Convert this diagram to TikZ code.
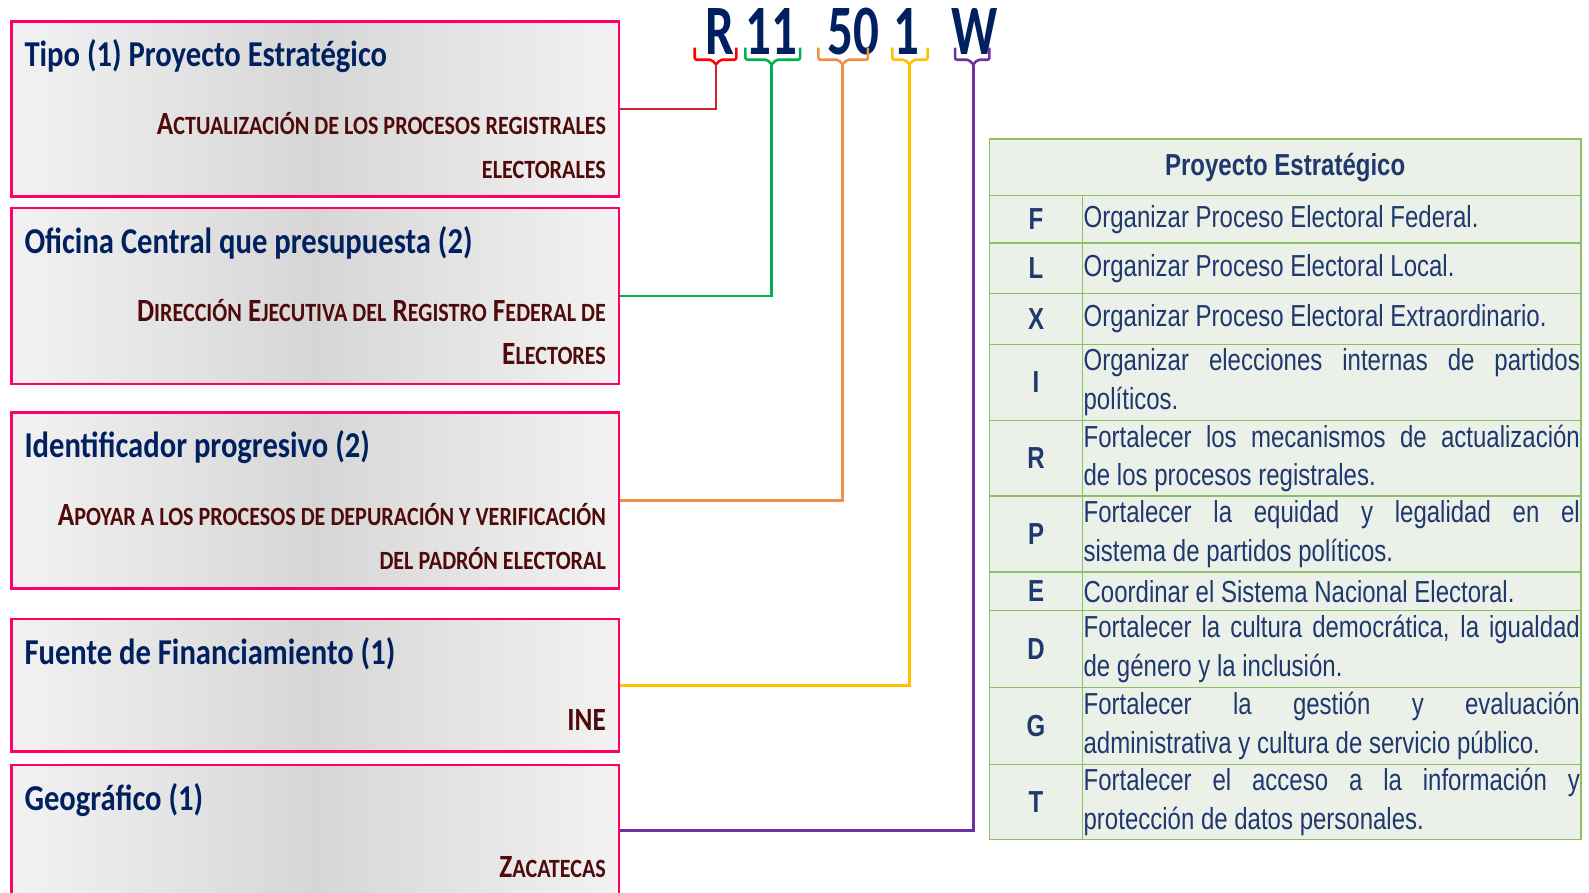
\documentclass[tikz,border=0pt]{standalone}
\usepackage{fontspec}
\usepackage{xcolor}
\usetikzlibrary{calc, positioning}
\newfontfamily\calibfont{Carlito}[FakeStretch=0.84]
\newfontfamily\codefont{Carlito}[FakeStretch=0.72]
\newfontfamily\narrowfont{Liberation Sans}[FakeStretch=0.79]
\definecolor{navy}{RGB}{0,32,96}
\definecolor{wine}{RGB}{80,10,10}
\definecolor{fieldline}{RGB}{255,0,102}
\definecolor{tabink}{RGB}{31,56,110}
\definecolor{tabfill}{RGB}{235,240,232}
\definecolor{tabline}{RGB}{141,192,99}
\definecolor{codered}{RGB}{255,0,0}
\definecolor{linkred}{RGB}{205,40,40}
\definecolor{codegreen}{RGB}{0,176,80}
\definecolor{codeorange}{RGB}{243,140,70}
\definecolor{codeyellow}{RGB}{255,192,0}
\definecolor{codepurple}{RGB}{112,48,160}
\newcommand{\sm}[1]{{\fontsize{26}{43}\selectfont #1}}
\newcommand{\tabfont}{\narrowfont\fontsize{30}{38}\selectfont\hyphenpenalty=10000\relax\tolerance=10000\relax}
\tikzset{
    field/.style={rectangle, draw=fieldline, line width=2.5pt, left color=black!5, right color=black!5, middle color=black!16, minimum width=600pt, anchor=north west},
    fieldtitle/.style={anchor=base west, inner sep=0pt, text=navy, font=\calibfont\bfseries\fontsize{36}{43}\selectfont},
    fieldvalue/.style={anchor=base east, inner sep=0pt, text=wine, font=\calibfont\bfseries\fontsize{32}{43}\selectfont},
    codechar/.style={anchor=base, inner sep=0pt, text=navy, font=\codefont\bfseries\fontsize{70}{70}\selectfont},
    brace/.style={line width=2.5pt, rounded corners=2pt},
    link/.style={line width=2.5pt},
    tabhead/.style={rectangle, draw=tabline, line width=1.5pt, fill=tabfill, outer sep=0pt, minimum width=584pt, minimum height=56pt, text=tabink, font=\narrowfont\bfseries\fontsize{30}{38}\selectfont},
    tabkey/.style={rectangle, draw=tabline, line width=1.5pt, fill=tabfill, outer sep=0pt, minimum width=92pt, text=tabink, font=\narrowfont\bfseries\fontsize{30}{38}\selectfont},
    tabtext/.style={rectangle, draw=tabline, line width=1.5pt, fill=tabfill, outer sep=0pt, text width=490pt, inner xsep=1pt, inner ysep=0pt, align=justify, text=tabink, font=\tabfont}
}

\begin{document}
\begin{tikzpicture}[x=1pt, y=-1pt]
    \useasboundingbox (0,0) rectangle (1569,881.7);

    % Field boxes
    \node[field, minimum height=173pt] (tipo) at (10,20) {};
    \node[field, minimum height=174pt] (oficina) at (10,204) {};
    \node[field, minimum height=174pt] (ident) at (10,406) {};
    \node[field, minimum height=131pt] (fuente) at (10,610) {};
    \node[field, minimum height=130pt] (geo) at (10,754) {};

    \node[fieldtitle] (tipoT) at ($(tipo.north west)+(14,46)$) {Tipo (1) Proyecto Estratégico};
    \node[fieldvalue] (tipoV) at ($(tipo.north east)+(-14,113)$) {A\sm{CTUALIZACIÓN DE LOS PROCESOS REGISTRALES}};
    \node[fieldvalue] (tipoW) at ($(tipo.north east)+(-14,156)$) {\sm{ELECTORALES}};

    \node[fieldtitle] (oficinaT) at ($(oficina.north west)+(14,46)$) {Oficina Central que presupuesta (2)};
    \node[fieldvalue] (oficinaV) at ($(oficina.north east)+(-14,113)$) {D\sm{IRECCIÓN} E\sm{JECUTIVA DEL} R\sm{EGISTRO} F\sm{EDERAL DE}};
    \node[fieldvalue] (oficinaW) at ($(oficina.north east)+(-14,156)$) {E\sm{LECTORES}};

    \node[fieldtitle] (identT) at ($(ident.north west)+(14,46)$) {Identificador progresivo (2)};
    \node[fieldvalue] (identV) at ($(ident.north east)+(-14,113)$) {A\sm{POYAR A LOS PROCESOS DE DEPURACIÓN Y VERIFICACIÓN}};
    \node[fieldvalue] (identW) at ($(ident.north east)+(-14,156)$) {\sm{DEL PADRÓN ELECTORAL}};

    \node[fieldtitle] (fuenteT) at ($(fuente.north west)+(14,46)$) {Fuente de Financiamiento (1)};
    \node[fieldvalue] (fuenteV) at ($(fuente.north east)+(-14,111)$) {INE};

    \node[fieldtitle] (geoT) at ($(geo.north west)+(14,46)$) {Geográfico (1)};
    \node[fieldvalue] (geoV) at ($(geo.north east)+(-14,112)$) {Z\sm{ACATECAS}};

    % Code
    \node[codechar] (cR) at (711,54) {R};
    \node[codechar] (cOf) at (762,54) {11};
    \node[codechar] (cId) at (843,54) {50};
    \node[codechar] (cFu) at (895,54) {1};
    \node[codechar] (cGe) at (962,54) {W};

    \draw[brace, codered] (686,47) -- (686,59) -- (703,59) -- (707,64) -- (711,59) -- (727,59) -- (727,47);
    \draw[brace, codegreen] (736,47) -- (736,59) -- (758,59) -- (762,64) -- (766,59) -- (790,59) -- (790,47);
    \draw[brace, codeorange] (808,47) -- (808,59) -- (828,59) -- (832,64) -- (836,59) -- (857,59) -- (857,47);
    \draw[brace, codeyellow] (881,47) -- (881,59) -- (894,59) -- (898,64) -- (902,59) -- (916,59) -- (916,47);
    \draw[brace, codepurple] (943,47) -- (943,59) -- (957,59) -- (961,64) -- (965,59) -- (977,59) -- (977,47);

    \coordinate (tipR) at (707,64);
    \coordinate (tipOf) at (762,64);
    \coordinate (tipId) at (832,64);
    \coordinate (tipFu) at (898,64);
    \coordinate (tipGe) at (961,64);

    \draw[link, linkred] (tipR) |- (tipo.east);
    \draw[link, codegreen] (tipOf) |- (oficina.east);
    \draw[link, codeorange] (tipId) |- (ident.east);
    \draw[link, codeyellow] (tipFu) |- (fuente.east);
    \draw[link, codepurple] (tipGe) |- (geo.east);

    % Table
    \node[tabhead, anchor=north west] (head) at (977,137) {Proyecto Estratégico};
    \node[tabkey, minimum height=47pt, below=0pt of head.south west, anchor=north west] (kF) {F};
    \node[tabtext, minimum height=47pt, right=0pt of kF] (tF) {Organizar Proceso Electoral Federal.};
    \node[tabkey, minimum height=50pt, below=0pt of kF] (kL) {L};
    \node[tabtext, minimum height=50pt, right=0pt of kL] (tL) {Organizar Proceso Electoral Local.};
    \node[tabkey, minimum height=50pt, below=0pt of kL] (kX) {X};
    \node[tabtext, minimum height=50pt, right=0pt of kX] (tX) {Organizar Proceso Electoral Extraordinario.};
    \node[tabkey, minimum height=75pt, below=0pt of kX] (kI) {I};
    \node[tabtext, minimum height=75pt, right=0pt of kI] (tI) {Organizar elecciones internas de partidos\linebreak políticos.};
    \node[tabkey, minimum height=75pt, below=0pt of kI] (kRe) {R};
    \node[tabtext, minimum height=75pt, right=0pt of kRe] (tRe) {Fortalecer los mecanismos de actualización\linebreak de los procesos registrales.};
    \node[tabkey, minimum height=75pt, below=0pt of kRe] (kP) {P};
    \node[tabtext, minimum height=75pt, right=0pt of kP] (tP) {Fortalecer la equidad y legalidad en el\linebreak sistema de partidos políticos.};
    \node[tabkey, minimum height=38pt, below=0pt of kP] (kE) {E};
    \node[tabtext, minimum height=38pt, right=0pt of kE] (tE) {Coordinar el Sistema Nacional Electoral.};
    \node[tabkey, minimum height=76pt, below=0pt of kE] (kD) {D};
    \node[tabtext, minimum height=76pt, right=0pt of kD] (tD) {Fortalecer la cultura democrática, la igualdad\linebreak de género y la inclusión.};
    \node[tabkey, minimum height=76pt, below=0pt of kD] (kG) {G};
    \node[tabtext, minimum height=76pt, right=0pt of kG] (tG) {Fortalecer la gestión y evaluación\linebreak administrativa y cultura de servicio público.};
    \node[tabkey, minimum height=74pt, below=0pt of kG] (kT) {T};
    \node[tabtext, minimum height=74pt, right=0pt of kT] (tT) {Fortalecer el acceso a la información y\linebreak protección de datos personales.};
\end{tikzpicture}
\end{document}
